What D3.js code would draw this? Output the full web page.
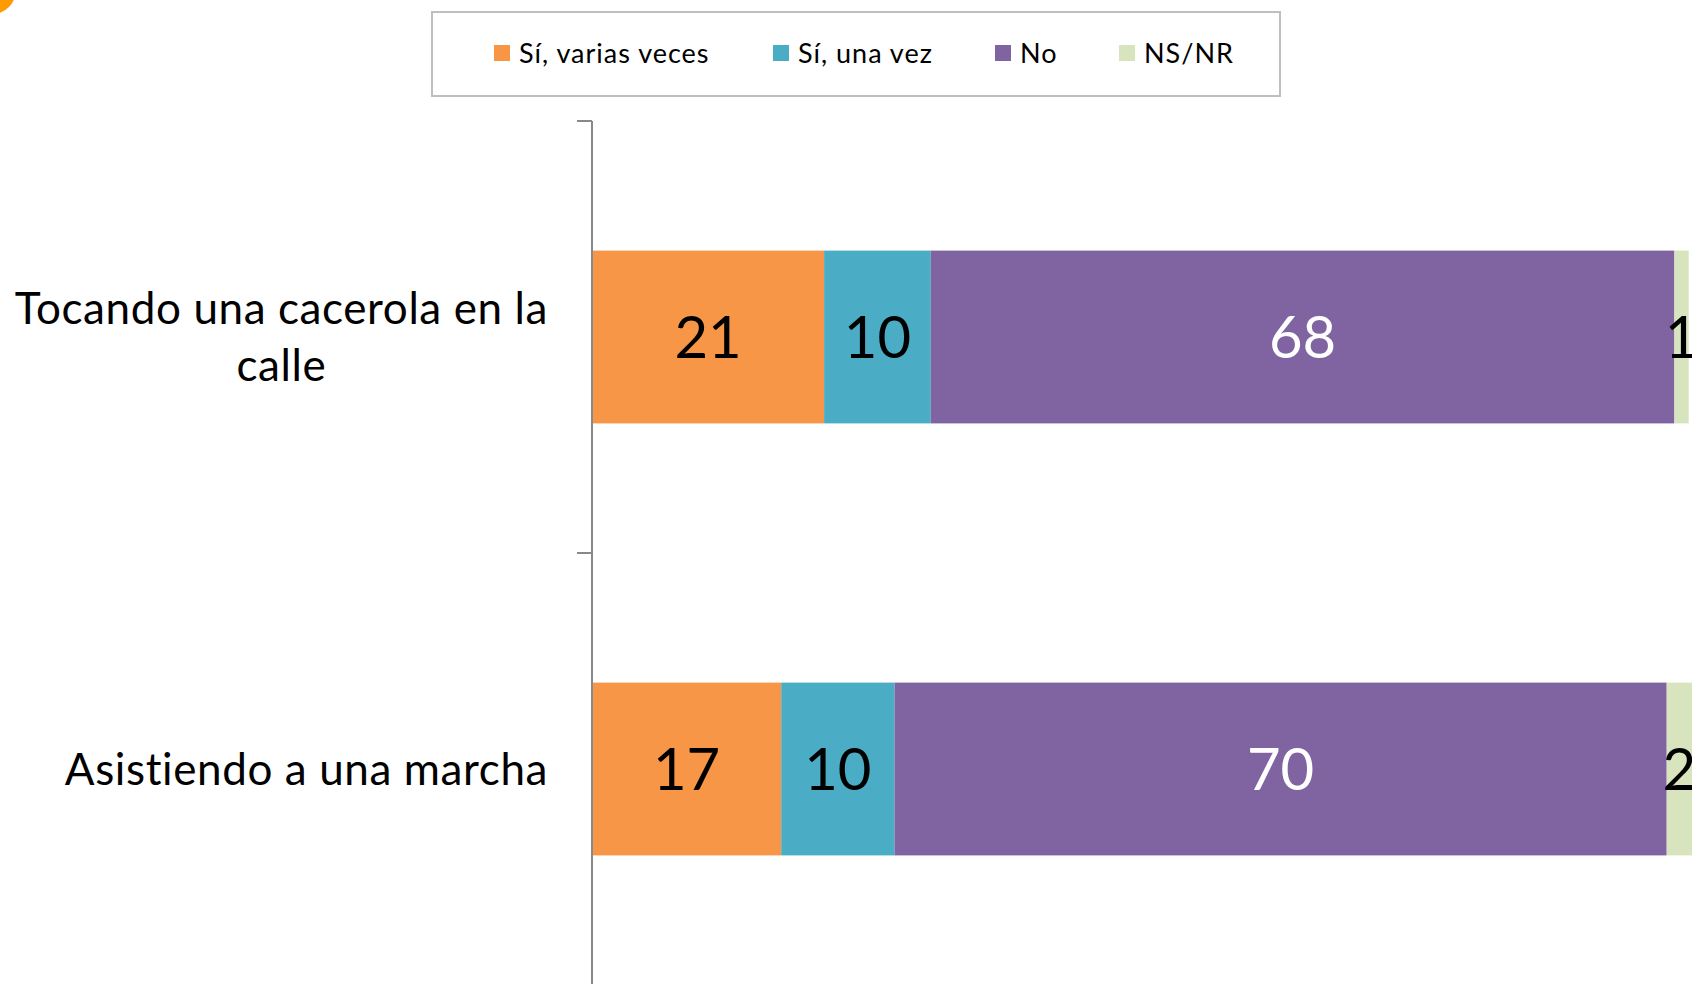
<!DOCTYPE html>
<html>
<head>
<meta charset="utf-8">
<script src="https://cdn.jsdelivr.net/npm/d3@7"></script>
<style>
  body { margin: 0; background: #fff; }
  svg { display: block; font-family: Lato, "Open Sans", sans-serif; }
</style>
</head>
<body>
<svg width="1692" height="984"></svg>
<script>
// categories, top to bottom
const categories = ['Tocando una cacerola en la calle', 'Asistiendo a una marcha']
const seriesNames = ['Sí, varias veces', 'Sí, una vez', 'No', 'NS/NR']
const colors = ['#F79646', '#4BACC6', '#8064A2', '#D7E4BD']
const labelColors = ['#000', '#000', '#fff', '#000']

// (labels show the rounded value)
const variasVeces = [21.1, 17.2]
const unaVez = [9.7, 10.3]
const no = [67.6, 70.2]
const nsnr = [1.3, 2.3]

const series = [variasVeces, unaVez, no, nsnr]

const svg = d3.select('svg')

// decoration in the top-left corner
svg.append('circle')
   .attr('cx', -8).attr('cy', -10).attr('r', 24)
   .attr('fill', '#FF9A00')

const xScale = d3.scaleLinear()
                 .domain([0, 100])
                 .range([592, 1692])

const yScale = d3.scaleBand()
                 .domain(categories)
                 .range([121, 985])
                 .paddingInner(0.6)
                 .paddingOuter(0.3)

const stack = categories.map((c, i) => {
  let acc = 0
  return series.map((s, k) => {
    const d = { cat: c, k: k, x0: acc, x1: acc + s[i], v: s[i] }
    acc += s[i]
    return d
  })
}).flat()

svg.selectAll('.bar')
   .data(stack)
   .enter()
   .append('rect')
   .classed('bar', true)
   .attr('x', d => xScale(d.x0))
   .attr('width', d => xScale(d.x1) - xScale(d.x0))
   .attr('y', d => yScale(d.cat))
   .attr('height', yScale.bandwidth())
   .attr('fill', d => colors[d.k])

svg.selectAll('.val')
   .data(stack)
   .enter()
   .append('text')
   .classed('val', true)
   .attr('x', d => (xScale(d.x0) + xScale(d.x1)) / 2)
   .attr('y', d => yScale(d.cat) + yScale.bandwidth() / 2)
   .attr('dy', '0.36em')
   .attr('text-anchor', 'middle')
   .attr('font-size', 58)
   .attr('fill', d => labelColors[d.k])
   .text(d => Math.round(d.v))

// category axis, ticks between categories (Excel style)
const axisX = xScale(0)
const step = yScale.step()
const y0 = yScale.range()[0]
const axis = svg.append('g').attr('stroke', '#898989').attr('stroke-width', 2)
axis.append('line')
    .attr('x1', axisX).attr('x2', axisX)
    .attr('y1', y0).attr('y2', y0 + step * categories.length)
d3.range(categories.length + 1).forEach(i => {
  axis.append('line')
      .attr('x1', axisX - 15).attr('x2', axisX)
      .attr('y1', y0 + i * step).attr('y2', y0 + i * step)
})

// category labels, wrapped like the original
const catLines = [['Tocando una cacerola en la', 'calle'], ['Asistiendo a una marcha']]
const labelRight = 548
const lineH = 57
categories.forEach((c, i) => {
  const g = svg.append('g')
  const lines = catLines[i]
  const cy = yScale(c) + yScale.bandwidth() / 2
  const texts = lines.map((l, j) => g.append('text')
    .attr('font-size', 44)
    .attr('letter-spacing', 0.6)
    .attr('fill', '#000')
    .attr('text-anchor', 'middle')
    .attr('y', cy + (j - (lines.length - 1) / 2) * lineH)
    .attr('dy', '0.36em')
    .text(l))
  const maxW = d3.max(texts, t => t.node().getBBox().width)
  texts.forEach(t => t.attr('x', labelRight - maxW / 2))
})

// legend
const legend = svg.append('g')
legend.append('rect')
      .attr('x', 432).attr('y', 12).attr('width', 848).attr('height', 84)
      .attr('fill', '#fff').attr('stroke', '#BFBFBF').attr('stroke-width', 2)
const legendX = [494, 773, 995, 1119]
seriesNames.forEach((n, k) => {
  legend.append('rect')
        .attr('x', legendX[k]).attr('y', 45)
        .attr('width', 16).attr('height', 16)
        .attr('fill', colors[k])
  legend.append('text')
        .attr('x', legendX[k] + 25).attr('y', 63)
        .attr('font-size', 27)
        .attr('letter-spacing', 1)
        .attr('fill', '#000')
        .text(n)
})
</script>
</body>
</html>
